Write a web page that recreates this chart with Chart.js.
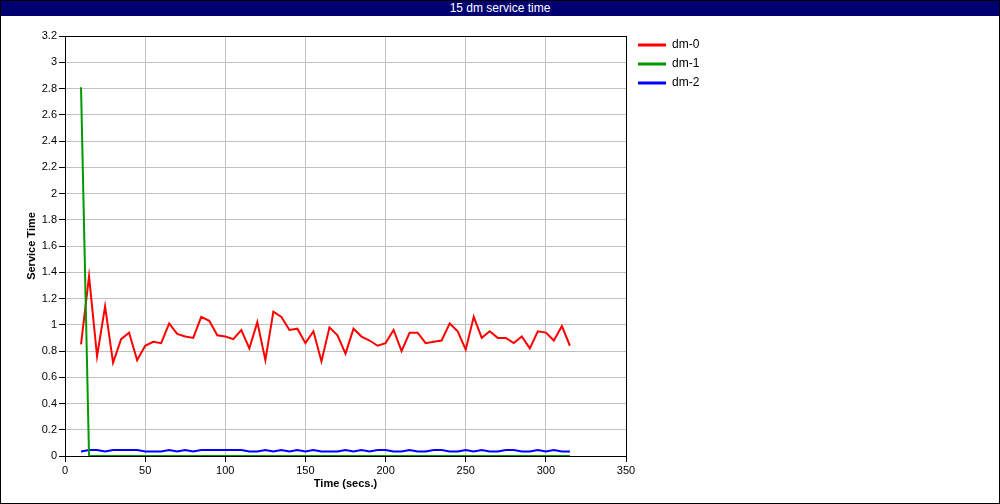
<!DOCTYPE html>
<html>
<head>
<meta charset="utf-8">
<script src="https://cdn.jsdelivr.net/npm/chart.js@4/dist/chart.umd.min.js"></script>
<style>
  html, body { margin: 0; padding: 0; background: #fff; }
  #frame { width: 1000px; height: 504px; box-sizing: border-box; border: 1px solid #000; position: relative; }
  #titleBar { height: 15px; line-height: 15px; background: #000070; color: #fff; text-align: center;
              font-family: "Liberation Sans", Arial, sans-serif; font-size: 12px; }
  #wrap { width: 998px; height: 487px; position: relative; }
</style>
</head>
<body>
<div id="frame">
  <div id="titleBar">15 dm service time</div>
  <div id="wrap"><canvas id="chart"></canvas></div>
</div>
<script>
// time stamps (secs.)
const times = [10, 15, 20, 25, 30, 35, 40, 45, 50, 55, 60, 65, 70, 75, 80, 85, 90, 95, 100, 105,
    110, 115, 120, 125, 130, 135, 140, 145, 150, 155, 160, 165, 170, 175, 180, 185, 190, 195, 200, 205,
    210, 215, 220, 225, 230, 235, 240, 245, 250, 255, 260, 265, 270, 275, 280, 285, 290, 295, 300, 305,
    310, 315];

// service time per dm
const dm0 = [0.85, 1.37, 0.76, 1.14, 0.71, 0.89, 0.94, 0.73, 0.84, 0.87, 0.86, 1.01, 0.93, 0.91, 0.90, 1.06, 1.03, 0.92, 0.91, 0.89,
    0.96, 0.82, 1.02, 0.73, 1.10, 1.06, 0.96, 0.97, 0.86, 0.95, 0.72, 0.98, 0.92, 0.78, 0.97, 0.91, 0.88, 0.84, 0.86, 0.96,
    0.80, 0.94, 0.94, 0.86, 0.87, 0.88, 1.01, 0.95, 0.81, 1.06, 0.90, 0.95, 0.90, 0.90, 0.86, 0.91, 0.82, 0.95, 0.94, 0.88,
    0.99, 0.84];
const dm1 = [2.81, 0, 0, 0, 0, 0, 0, 0, 0, 0, 0, 0, 0, 0, 0, 0, 0, 0, 0, 0,
    0, 0, 0, 0, 0, 0, 0, 0, 0, 0, 0, 0, 0, 0, 0, 0, 0, 0, 0, 0,
    0, 0, 0, 0, 0, 0, 0, 0, 0, 0, 0, 0, 0, 0, 0, 0, 0, 0, 0, 0,
    0, 0];
const dm2 = [0.035, 0.045, 0.045, 0.035, 0.045, 0.045, 0.045, 0.045, 0.035, 0.035, 0.035, 0.045, 0.035, 0.045, 0.035, 0.045, 0.045, 0.045, 0.045, 0.045,
    0.045, 0.035, 0.035, 0.045, 0.035, 0.045, 0.035, 0.045, 0.035, 0.045, 0.035, 0.035, 0.035, 0.045, 0.035, 0.045, 0.035, 0.045, 0.045, 0.035,
    0.035, 0.045, 0.035, 0.035, 0.045, 0.045, 0.035, 0.035, 0.045, 0.035, 0.045, 0.035, 0.035, 0.045, 0.045, 0.035, 0.035, 0.045, 0.035, 0.045,
    0.035, 0.035];

const seriesNames = ['dm-0', 'dm-1', 'dm-2'];
const seriesColors = ['#ff0000', '#009900', '#0000ff'];

const FONT = '"Liberation Sans", Arial, sans-serif';

function toPoints(vals) {
    return vals.map((v, i) => ({ x: times[i], y: v }));
}

// black box around the plot + legend on the right
const frameAndLegend = {
    id: 'frameAndLegend',
    afterDraw(chart) {
        const ctx = chart.ctx;
        const a = chart.chartArea;
        ctx.save();
        ctx.strokeStyle = '#000';
        ctx.lineWidth = 1;
        ctx.strokeRect(Math.round(a.left) + 0.5, Math.round(a.top) + 0.5, Math.round(a.right - a.left), Math.round(a.bottom - a.top));

        ctx.font = '12px ' + FONT;
        ctx.textBaseline = 'middle';
        ctx.fillStyle = '#000';
        chart.data.datasets.forEach((ds, i) => {
            const y = 29 + i * 19;
            ctx.strokeStyle = ds.borderColor;
            ctx.lineWidth = 3;
            ctx.beginPath();
            ctx.moveTo(637, y);
            ctx.lineTo(665, y);
            ctx.stroke();
            ctx.fillText(ds.label, 671, y);
        });
        ctx.restore();
    }
};

new Chart(document.getElementById('chart').getContext('2d'), {
    type: 'line',
    data: {
        datasets: [
            { label: seriesNames[0], data: toPoints(dm0), borderColor: seriesColors[0], order: 1 },
            { label: seriesNames[1], data: toPoints(dm1), borderColor: seriesColors[1], order: 0 },
            { label: seriesNames[2], data: toPoints(dm2), borderColor: seriesColors[2], order: 2 }
        ]
    },
    options: {
        responsive: true,
        maintainAspectRatio: false,
        animation: false,
        layout: { padding: { left: 0, top: 20, right: 373, bottom: 0 } },
        elements: {
            point: { radius: 0 },
            line: { borderWidth: 2, tension: 0 }
        },
        plugins: {
            legend: { display: false },
            tooltip: { enabled: false }
        },
        scales: {
            x: {
                type: 'linear',
                min: 0,
                max: 350,
                afterFit: s => { s.height = 47; },
                ticks: { stepSize: 50, color: '#000', font: { family: FONT, size: 11 }, padding: 2, maxRotation: 0 },
                grid: { color: '#c0c0c0', tickColor: '#000', tickLength: 6 },
                border: { color: '#000' },
                title: { display: true, text: 'Time (secs.)', color: '#000',
                         font: { family: FONT, size: 11, weight: 'bold' }, padding: { top: 0, bottom: 12 } }
            },
            y: {
                min: 0,
                max: 3.2,
                afterFit: s => { s.width = 64; },
                ticks: { stepSize: 0.2, color: '#000', font: { family: FONT, size: 11 }, padding: 2,
                         callback: v => String(Number(v.toFixed(1))) },
                grid: { color: '#c0c0c0', tickColor: '#000', tickLength: 6 },
                border: { color: '#000' },
                title: { display: true, text: 'Service Time', color: '#000',
                         font: { family: FONT, size: 11, weight: 'bold' }, padding: { top: 24, bottom: 0 } }
            }
        }
    },
    plugins: [frameAndLegend]
});
</script>
</body>
</html>
